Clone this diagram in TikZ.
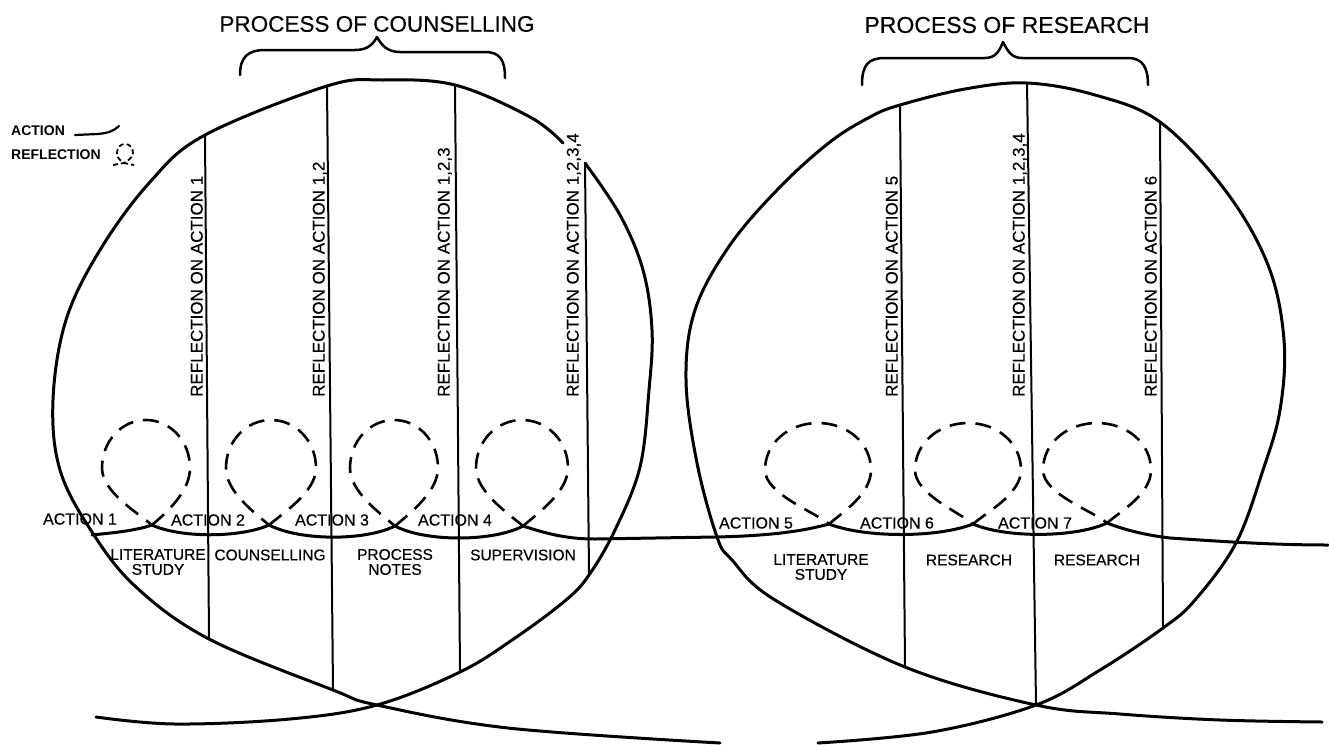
\documentclass[tikz,border=0pt]{standalone}
\usepackage{fontspec}
\setmainfont{Liberation Sans}
\newfontfamily\scanfont{Liberation Sans}[FakeBold=0.4]
\begin{document}
\begin{tikzpicture}[x=1pt,y=-1pt,
  outline/.style={line width=3pt, line join=round, line cap=round},
  divider/.style={line width=2pt},
  actionline/.style={line width=3pt, line join=round, line cap=round},
  reflectloop/.style={line width=2.6pt, dash pattern=on 16pt off 10pt},
  reflabel/.style={rotate=90, anchor=south west, inner sep=0pt, font=\scanfont\fontsize{17}{17}\selectfont},
  actlabel/.style={inner sep=0pt, font=\scanfont\fontsize{16}{16}\selectfont},
  steplabel/.style={inner sep=0pt, align=center, font=\scanfont\fontsize{15.5}{15}\selectfont},
  titlelabel/.style={inner sep=0pt, font=\scanfont\fontsize{22.5}{24}\selectfont},
  keylabel/.style={inner sep=0pt, anchor=west, font=\bfseries\fontsize{14}{14}\selectfont},
  brace/.style={line width=2.5pt, line cap=round, line join=round}]

\useasboundingbox (0,0) rectangle (1329,744);

% ---------- titles and braces ----------
\node[titlelabel] (ttlcoun) at (377,24) {PROCESS OF COUNSELLING};
\node[titlelabel, font=\scanfont\fontsize{23}{24}\selectfont] (ttlres) at (1007,25) {PROCESS OF RESEARCH};
\draw[brace] (240,75) .. controls (240,57) and (248,50) .. (265,50) -- (355,50)
  .. controls (366,50) and (372,46) .. (377,37) .. controls (382,46) and (388,52) .. (400,52)
  -- (485,52) .. controls (500,52) and (505,60) .. (505,78);
\draw[brace] (862,85) .. controls (862,65) and (868,58) .. (885,58) -- (985,58)
  .. controls (995,58) and (999,52) .. (1003,42) .. controls (1008,52) and (1012,58) .. (1022,58)
  -- (1128,58) .. controls (1143,58) and (1148,68) .. (1148,85);

% ---------- key ----------
\node[keylabel] (keyact) at (11,131) {ACTION};
\node[keylabel] (keyref) at (11,155) {REFLECTION};
\draw[line width=2.2pt, line cap=round] (75,135) -- (98,134) .. controls (108,133) and (114,131) .. (119,126);
\draw[line width=1.8pt, dash pattern=on 5pt off 3pt] (113,165) -- (124,163)
  .. controls +(5,-3) and +(0,4) .. (133,153) .. controls +(0,-5) and +(5,0) .. (125,144)
  .. controls +(-5,0) and +(0,-5) .. (117,153) .. controls +(0,4) and +(-5,-3) .. (124,163) -- (134,165);

% ---------- counselling cycle outline ----------
\draw[outline] plot[smooth, tension=0.6] coordinates {(563,143) (530,117) (455,85) (383,80) (327,86)
  (205,135) (150,182) (100,250) (66,320) (53,400) (60,470) (92,532) (136,587)
  (209,639) (333,690) (377,705) (508,728) (720,743)};
\draw[outline] plot[smooth, tension=0.6] coordinates {(585,163) (620,215) (643,270) (652,330)
  (649,390) (640,467) (615,530) (589,575) (566,600) (515,638) (460,672) (377,705) (290,719)
  (175,724) (96,717)};

% ---------- research cycle outline ----------
\draw[outline] plot[smooth, tension=0.6] coordinates {(1322,722) (1220,720) (1120,714) (1036,705)
  (905,667) (775,600) (732,560) (717,537) (697,463) (686,380) (695,310) (730,245) (780,187)
  (830,142) (870,117) (900,105) (965,89) (1027,83) (1095,95) (1160,122) (1225,190) (1268,265)
  (1284,340) (1280,410) (1263,470) (1236,543) (1195,600) (1163,628) (1100,670) (1036,705)
  (932,732) (818,743)};

% ---------- reflection dividers ----------
\coordinate (l1top) at (205,135); \coordinate (l1bot) at (209,639);
\coordinate (l2top) at (327,86);  \coordinate (l2bot) at (333,690);
\coordinate (l3top) at (455,85);  \coordinate (l3bot) at (460,672);
\coordinate (l4top) at (585,163); \coordinate (l4bot) at (589,575);
\coordinate (r1top) at (900,105); \coordinate (r1bot) at (905,667);
\coordinate (r2top) at (1027,83); \coordinate (r2bot) at (1036,705);
\coordinate (r3top) at (1160,122); \coordinate (r3bot) at (1163,628);
\foreach \a in {l1,l2,l3,l4,r1,r2,r3} \draw[divider] (\a top) -- (\a bot);

\node[reflabel] (refl1) at (203,397) {REFLECTION ON ACTION 1};
\node[reflabel] (refl2) at (327,397) {REFLECTION ON ACTION 1,2};
\node[reflabel] (refl3) at (452,397) {REFLECTION ON ACTION 1,2,3};
\node[reflabel] (refl4) at (581,397) {REFLECTION ON ACTION 1,2,3,4};
\node[reflabel] (refr1) at (898,397) {REFLECTION ON ACTION 5};
\node[reflabel] (refr2) at (1027,397) {REFLECTION ON ACTION 1,2,3,4};
\node[reflabel] (refr3) at (1157,397) {REFLECTION ON ACTION 6};

% ---------- action line ----------
\coordinate (a0) at (92,535);
\coordinate (c1) at (152,525); \coordinate (c2) at (269,525);
\coordinate (c3) at (395,526); \coordinate (c4) at (523,526);
\coordinate (c5) at (829,524); \coordinate (c6) at (973,524);
\coordinate (c7) at (1107,523); \coordinate (a9) at (1328,545);
\draw[actionline] (a0) .. controls (110,533) and (135,531) .. (c1)
  .. controls (180,538) and (240,538) .. (c2)
  .. controls (300,541) and (365,541) .. (c3)
  .. controls (425,542) and (493,542) .. (c4)
  .. controls (545,533) and (565,539) .. (595,539) -- (715,537)
  .. controls (765,536) and (800,532) .. (c5)
  .. controls (865,538) and (937,538) .. (c6)
  .. controls (1005,538) and (1075,538) .. (c7)
  .. controls (1125,530) and (1145,535) .. (1170,538)
  .. controls (1215,541) and (1270,545) .. (a9);

% ---------- reflection loops ----------
\foreach \px/\py/\cx/\cy/\rx/\ry in {152/525/146/468/44/48, 269/525/271/468/45/48,
    395/526/394/468/44/48, 523/526/522/468/46/48, 829/524/818/470/53/47,
    973/524/968/470/53/47, 1107/523/1097/470/54/47}
  \draw[reflectloop] (\px,\py) .. controls +(14,-12) and +(0,24) .. (\cx+\rx,\cy)
    .. controls +(0,-27) and +(0.55*\rx,0) .. (\cx,\cy-\ry)
    .. controls +(-0.55*\rx,0) and +(0,-27) .. (\cx-\rx,\cy)
    .. controls +(0,24) and +(-14,-12) .. (\px,\py);

% ---------- action labels ----------
\node[actlabel] (act1) at (80,519) {ACTION 1};
\node[actlabel] (act2) at (208,520) {ACTION 2};
\node[actlabel] (act3) at (332,520) {ACTION 3};
\node[actlabel] (act4) at (455,520) {ACTION 4};
\node[actlabel] (act5) at (756,523) {ACTION 5};
\node[actlabel] (act6) at (897,523) {ACTION 6};
\node[actlabel] (act7) at (1035,523) {ACTION 7};

% ---------- activity labels ----------
\node[steplabel] (stp1) at (158,562) {LITERATURE\\STUDY};
\node[steplabel] (stp2) at (270,555) {COUNSELLING};
\node[steplabel] (stp3) at (395,562) {PROCESS\\NOTES};
\node[steplabel] (stp4) at (523,555) {SUPERVISION};
\node[steplabel] (stp5) at (821,567) {LITERATURE\\STUDY};
\node[steplabel] (stp6) at (969,560) {RESEARCH};
\node[steplabel] (stp7) at (1097,560) {RESEARCH};
\end{tikzpicture}
\end{document}
